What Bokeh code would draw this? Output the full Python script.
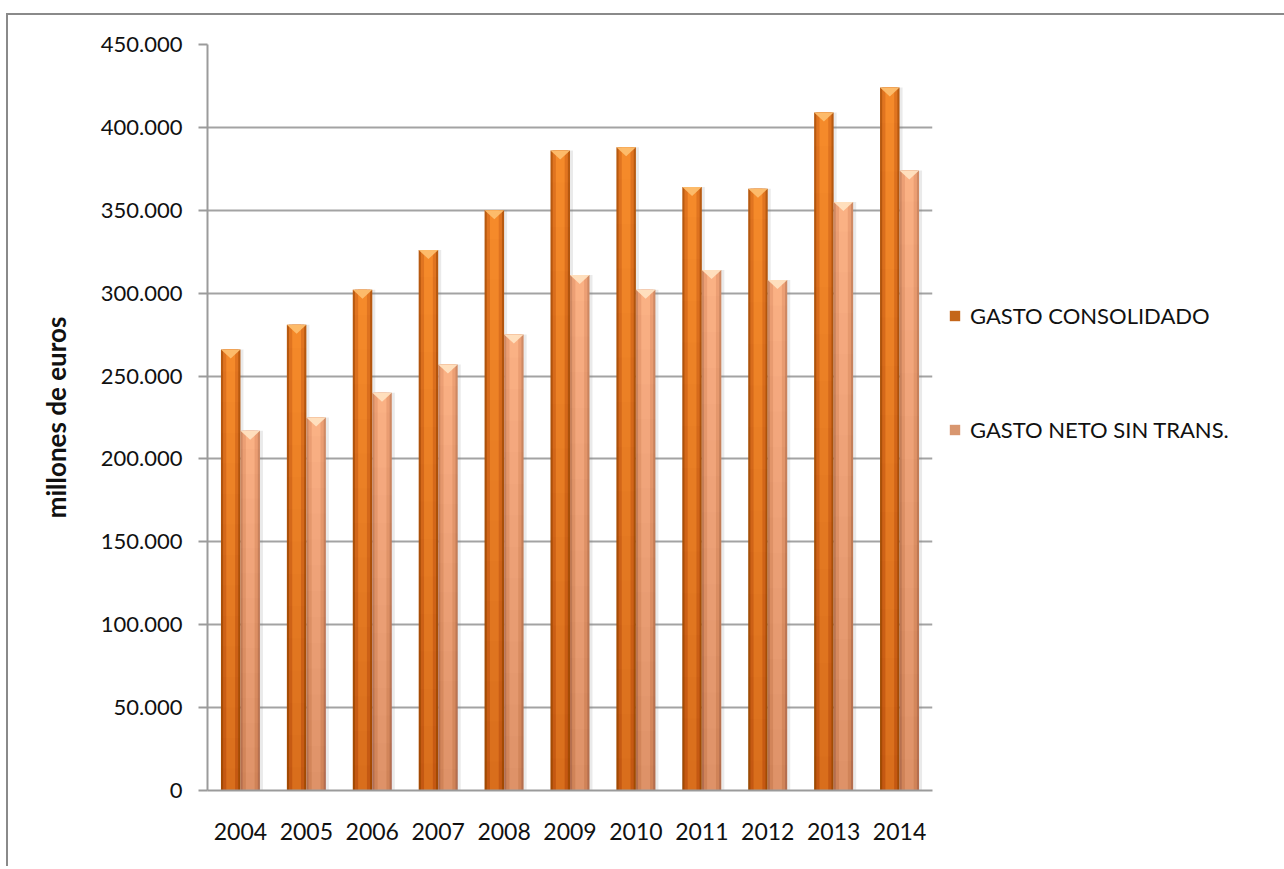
import numpy as np
from bokeh.plotting import figure
from bokeh.models import ColumnDataSource, FixedTicker, Legend, LegendItem, Range1d
from bokeh.embed import file_html
from bokeh.resources import INLINE

# Gasto público (millones de euros)
years = ["2004", "2005", "2006", "2007", "2008", "2009", "2010", "2011", "2012", "2013", "2014"]
gasto_consolidado = [266000, 281000, 302000, 326000, 350000, 386000, 388000, 364000, 363000, 409000, 424000]
gasto_neto = [217000, 225000, 240000, 257000, 275000, 311000, 302000, 314000, 308000, 355000, 374000]
y_ticks = [0, 50000, 100000, 150000, 200000, 250000, 300000, 350000, 400000, 450000]
y_tick_labels = ["0", "50.000", "100.000", "150.000", "200.000", "250.000",
                 "300.000", "350.000", "400.000", "450.000"]
series_names = ["GASTO CONSOLIDADO", "GASTO NETO SIN TRANS."]

FRAME_W, FRAME_H = 725, 746
Y_MAX = 450000
FONT = "Lato"

p = figure(frame_width=FRAME_W, frame_height=FRAME_H,
           min_border_left=199, min_border_top=29, min_border_right=345, min_border_bottom=76,
           x_range=Range1d(-0.5, len(years) - 0.5), y_range=Range1d(0, Y_MAX),
           output_backend="svg", toolbar_location=None)
p.margin = (13, 0, 0, 6)
p.styles = {"border-top": "2px solid #8a8a8a", "border-left": "2px solid #8a8a8a"}
p.outline_line_color = None
p.background_fill_color = "white"
p.border_fill_color = "white"

idx = np.arange(len(years))
bar_w = 0.296
px_per_x = FRAME_W / len(years)
val_per_px = Y_MAX / FRAME_H

# (edge, mid, center, cap, legend) colours for the bevelled bars
palettes = [
    ("#B85A10", "#E07420", "#F58A2A", "#FDBE6E", "#C4661A"),
    ("#D08A64", "#EC9F74", "#FAB184", "#FFE1C0", "#D8966F"),
]
legend_items = []
for k, (vals, offset) in enumerate([(gasto_consolidado, -bar_w / 2), (gasto_neto, bar_w / 2)]):
    edge, mid, center, cap, leg = palettes[k]
    xs = idx + offset
    vals = np.asarray(vals, dtype=float)
    src = ColumnDataSource(dict(x=xs, top=vals, xs_shadow=xs + 3 / px_per_x))
    # soft shadow to the right of each bar
    p.vbar(x="xs_shadow", top="top", width=bar_w, source=src,
           fill_color="#7f7f7f", fill_alpha=0.16, line_color=None)
    p.vbar(x="x", top="top", width=bar_w, source=src, fill_color=edge, line_color=None)
    p.vbar(x="x", top="top", width=bar_w * 0.78, source=src, fill_color=mid, line_color=None)
    p.vbar(x="x", top="top", width=bar_w * 0.45, source=src, fill_color=center, line_color=None)
    # darker towards the base: many faint translucent overlays
    for f in np.linspace(0.95, 0.05, 14):
        p.vbar(x=xs, top=vals * f, width=bar_w, fill_color="#3a1a00",
               fill_alpha=0.013, line_color=None)
    # bevelled top: a light inverted triangle under each bar top
    depth = 9 * val_per_px
    cap_xs = [[x - bar_w / 2, x + bar_w / 2, x] for x in xs]
    cap_ys = [[v, v, v - depth] for v in vals]
    p.patches(cap_xs, cap_ys, fill_color=cap, line_color=None, fill_alpha=0.95)
    dummy = p.vbar(x=[0], top=[0], width=0, fill_color=leg, line_color=None)
    legend_items.append(LegendItem(label=series_names[k], renderers=[dummy]))

# axes
p.yaxis.ticker = FixedTicker(ticks=y_ticks)
p.yaxis.major_label_overrides = {t: l for t, l in zip(y_ticks, y_tick_labels)}
p.xaxis.ticker = FixedTicker(ticks=list(idx))
p.xaxis.major_label_overrides = {int(i): y for i, y in zip(idx, years)}

for ax in (p.xaxis, p.yaxis):
    ax.axis_line_color = "#9b9b9b"
    ax.axis_line_width = 2
    ax.major_label_text_font = FONT
    ax.major_label_text_font_size = "22px"
    ax.major_label_text_color = "#111111"
    ax.minor_tick_line_color = None
    ax.major_tick_in = 0

p.yaxis.major_tick_out = 9
p.yaxis.major_tick_line_color = "#9b9b9b"
p.yaxis.major_tick_line_width = 2
p.yaxis.major_label_standoff = 16
p.yaxis.axis_label = "millones de euros"
p.yaxis.axis_label_text_font = FONT
p.yaxis.axis_label_text_font_style = "bold"
p.yaxis.axis_label_text_font_size = "26px"
p.yaxis.axis_label_text_color = "#111111"
p.yaxis.axis_label_standoff = 26

p.xaxis.major_tick_out = 0
p.xaxis.major_tick_line_color = None
p.xaxis.major_label_standoff = 32
p.xaxis.major_label_text_font_size = "23px"

p.xgrid.grid_line_color = None
p.ygrid.grid_line_color = "#a3a3a3"
p.ygrid.grid_line_width = 2

legend = Legend(items=legend_items, location=(16, 347), orientation="vertical",
                label_text_font=FONT, label_text_font_size="22px", label_text_color="#111111",
                glyph_width=13, glyph_height=13, label_standoff=9, spacing=87,
                padding=0, margin=0, border_line_color=None, background_fill_alpha=0)
p.add_layout(legend, "right")

open("out.html", "w").write(file_html(p, INLINE))
